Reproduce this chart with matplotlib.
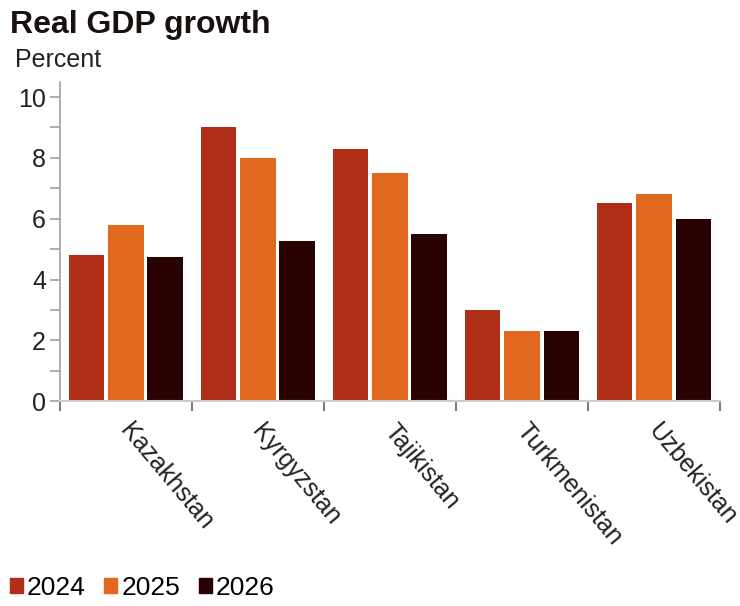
import numpy as np
import matplotlib
matplotlib.use("Agg")
import matplotlib.pyplot as plt
from matplotlib.patches import Patch
from matplotlib.ticker import MultipleLocator

plt.rcParams['font.family'] = ['Liberation Sans', 'DejaVu Sans']

countries = ["Kazakhstan", "Kyrgyzstan", "Tajikistan", "Turkmenistan", "Uzbekistan"]
years = ["2024", "2025", "2026"]
g2024 = [4.8, 9.0, 8.3, 3.0, 6.5]
g2025 = [5.8, 8.0, 7.5, 2.3, 6.8]
g2026 = [4.75, 5.25, 5.5, 2.3, 6.0]
colors = ["#AE2E17", "#E0691F", "#2A0202"]

fig = plt.figure(figsize=(7.4, 6.06), dpi=100)
ax = fig.add_axes([0.081, 0.338, 0.892, 0.527])

x = np.arange(len(countries))
step = 0.297
width = 0.268
for i, vals in enumerate([g2024, g2025, g2026]):
    ax.bar(x + (i - 1) * step, vals, width, color=colors[i], zorder=2)

ax.set_xlim(-0.5, len(countries) - 0.5)
ax.set_ylim(0, 10.5)
ax.yaxis.set_minor_locator(MultipleLocator(1))
ax.set_yticks([0, 2, 4, 6, 8, 10])

spine_col = "#A89C9C"
for s in ["top", "right"]:
    ax.spines[s].set_visible(False)
ax.spines["left"].set_color(spine_col)
ax.spines["bottom"].set_color("#D0CCCC")
ax.spines["left"].set_linewidth(1.2)
ax.spines["bottom"].set_linewidth(1.5)
ax.tick_params(axis="y", which="both", length=7, width=1.2, color=spine_col,
               labelsize=18, labelcolor="#222222", pad=3)

# category boundary ticks on x axis
ax.set_xticks(np.arange(-0.5, len(countries), 1.0), minor=False)
ax.set_xticklabels([])
ax.tick_params(axis="x", which="major", length=7, width=1.2, color="#666060", direction="out")
ax.set_xticks(x + 0.06, minor=True)
ax.set_xticklabels(countries, minor=True, rotation=-50, ha="left", va="top",
                   rotation_mode="anchor", fontsize=18, color="#222222")
ax.tick_params(axis="x", which="minor", length=0, pad=13)

fig.text(0.013, 0.958, "Real GDP growth", fontsize=23, fontweight="bold",
         color="#1a1010", ha="left", va="center")
fig.text(0.02, 0.901, "Percent", fontsize=18, color="#222222", ha="left", va="center")

handles = [Patch(color=c) for c in colors]
fig.legend(handles, years, loc="lower left", bbox_to_anchor=(-0.008, -0.016), ncol=3,
           frameon=False, fontsize=19, handlelength=0.5, handleheight=0.5,
           handletextpad=0.15, columnspacing=0.7, borderaxespad=0.2)

fig.savefig("out.png", dpi=100)
